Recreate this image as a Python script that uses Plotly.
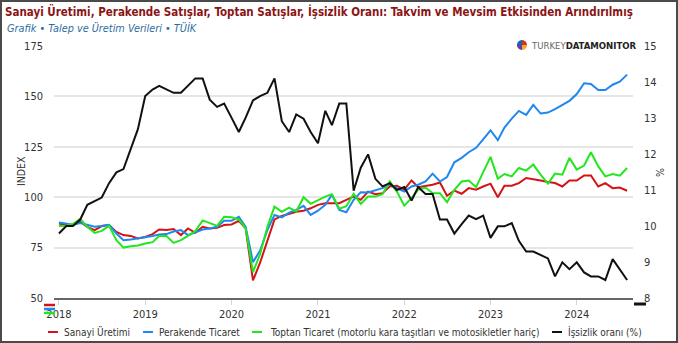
import math
import pandas as pd
import plotly.graph_objects as go

# Monthly data, Jan 2018 - Aug 2024 (seasonally and calendar adjusted)
months = pd.date_range("2018-01-01", periods=80, freq="MS")

sanayi_uretimi = [
    87.0, 86.2, 86.2, 87.8, 85.3, 83.7, 85.7, 86.2, 82.8, 81.2, 80.8, 79.5,
    80.3, 81.7, 84.0, 83.7, 84.2, 81.2, 84.5, 82.3, 85.3, 84.5, 84.8, 86.2,
    86.5, 88.3, 84.5, 58.7, 67.5, 78.7, 89.0, 90.7, 91.7, 92.8, 93.3, 94.5,
    96.2, 97.0, 97.0, 97.0, 98.7, 100.3, 98.7, 102.8, 101.5, 102.0, 105.3, 105.7,
    103.7, 108.3, 105.0, 105.7, 106.2, 107.3, 100.7, 103.3, 101.7, 104.5, 103.7, 105.3,
    106.7, 100.0, 105.7, 105.7, 107.0, 109.5, 109.0, 108.3, 107.5, 107.0, 105.3, 108.3,
    108.3, 110.8, 110.8, 105.3, 107.0, 104.5, 104.8, 103.2,
]

perakende_ticaret = [
    87.5, 87.0, 86.3, 87.2, 86.2, 85.3, 85.7, 86.3, 82.0, 78.7, 79.0, 79.5,
    80.3, 80.8, 81.5, 81.7, 83.0, 83.7, 81.2, 82.8, 84.0, 84.5, 85.3, 88.3,
    88.3, 90.3, 85.3, 67.8, 73.5, 83.7, 91.2, 90.0, 92.3, 93.7, 95.7, 91.2,
    93.3, 96.2, 101.2, 93.7, 92.5, 98.7, 102.5, 102.3, 103.3, 104.5, 106.2, 104.5,
    102.8, 105.3, 106.2, 107.8, 111.7, 107.8, 110.0, 117.3, 119.5, 122.3, 124.5, 128.7,
    133.2, 128.3, 134.5, 139.0, 142.8, 140.8, 145.8, 141.5, 142.0, 143.7, 145.7, 147.8,
    151.2, 156.5, 156.2, 153.2, 153.2, 155.8, 157.3, 160.8,
]

toptan_ticaret = [
    85.7, 85.8, 86.7, 89.3, 85.3, 82.3, 83.3, 85.8, 78.7, 75.0, 75.7, 76.0,
    77.0, 77.7, 80.8, 80.7, 77.3, 78.7, 80.8, 83.2, 88.5, 87.0, 85.8, 90.3,
    90.0, 89.0, 84.5, 62.8, 71.7, 85.3, 95.3, 92.8, 94.8, 92.8, 100.0, 96.7,
    98.7, 100.3, 101.5, 94.3, 95.5, 101.7, 96.7, 100.3, 100.3, 101.5, 107.8, 102.8,
    95.8, 99.5, 103.7, 104.8, 102.0, 102.0, 97.5, 103.7, 107.8, 108.3, 105.0, 112.0,
    120.0, 109.2, 111.5, 110.3, 114.5, 113.2, 116.2, 111.2, 106.7, 111.7, 111.2, 119.5,
    113.7, 115.7, 122.3, 115.3, 110.3, 111.5, 110.7, 114.5,
]

issizlik_orani = [
    9.79, 10.00, 10.00, 10.18, 10.59, 10.69, 10.79, 11.19, 11.49, 11.58, 12.15, 12.69,
    13.61, 13.79, 13.89, 13.79, 13.70, 13.70, 13.89, 14.10, 14.10, 13.51, 13.31, 13.40,
    13.01, 12.61, 13.01, 13.49, 13.61, 13.70, 14.10, 12.91, 12.61, 13.10, 12.98, 12.61,
    12.30, 13.20, 12.80, 13.40, 13.40, 10.98, 11.62, 11.99, 11.31, 11.10, 11.19, 11.00,
    11.08, 10.71, 11.08, 10.89, 10.89, 10.18, 10.18, 9.79, 10.05, 10.29, 10.19, 10.29,
    9.67, 9.99, 9.99, 10.08, 9.59, 9.29, 9.29, 9.20, 9.10, 8.60, 8.99, 8.80,
    8.99, 8.71, 8.60, 8.60, 8.50, 9.08, 8.80, 8.50,
]

series_names = [
    "Sanayi Üretimi",
    "Perakende Ticaret",
    "Toptan Ticaret (motorlu kara taşıtları ve motosikletler hariç)",
    "İşsizlik oranı (%)",
]
series_colors = ["#d41414", "#1e88f0", "#22e61e", "#111111"]

left_ticks = [50, 75, 100, 125, 150, 175]
right_ticks = [8, 9, 10, 11, 12, 13, 14, 15]
year_ticks = ["2018", "2019", "2020", "2021", "2022", "2023", "2024"]

W, H = 678, 343
ML, MR, MT, MB = 54, 45, 46, 45
PW, PH = W - ML - MR, H - MT - MB


def px(x):
    return (x - ML) / PW


def py(y):
    return (H - MB - y) / PH


FONT = "DejaVu Sans Condensed, Liberation Sans Narrow, sans-serif"

fig = go.Figure()
for vals, name, color, axis in zip(
    [sanayi_uretimi, perakende_ticaret, toptan_ticaret, issizlik_orani],
    series_names, series_colors, ["y", "y", "y", "y2"],
):
    fig.add_trace(go.Scatter(
        x=months, y=vals, name=name, mode="lines", yaxis=axis,
        line=dict(color=color, width=2), showlegend=False,
    ))

shapes = []
annotations = []

# legend row
leg_sym_x = [48, 143, 252, 552]
leg_txt_x = [62, 157, 268, 566]
leg_y = 332
for name, color, sx, tx in zip(series_names, series_colors, leg_sym_x, leg_txt_x):
    shapes.append(dict(type="line", xref="paper", yref="paper",
                       x0=px(sx), x1=px(sx + 10), y0=py(leg_y), y1=py(leg_y),
                       line=dict(color=color, width=2)))
    annotations.append(dict(text=name, xref="paper", yref="paper",
                            x=px(tx), y=py(leg_y), xanchor="left", yanchor="middle",
                            showarrow=False, font=dict(family=FONT, size=10, color="#333333")))

# stray legend swatches near the axis corners
for yy, color in zip([305, 309, 313], series_colors[:3]):
    shapes.append(dict(type="line", xref="paper", yref="paper",
                       x0=px(44), x1=px(55), y0=py(yy), y1=py(yy),
                       line=dict(color=color, width=2.5)))
shapes.append(dict(type="line", xref="paper", yref="paper",
                   x0=px(634), x1=px(646), y0=py(304), y1=py(304),
                   line=dict(color="#111111", width=3)))

# logo background + pie icon
shapes.append(dict(type="rect", xref="paper", yref="paper", layer="above",
                   x0=px(508), x1=px(641), y0=py(52), y1=py(39),
                   fillcolor="white", line=dict(width=0)))
cx, cy, r = 522, 45, 5
wedge_cols = ["#d32f2f", "#1565c0", "#6a3d9a", "#f9a825"]
for k, wc in enumerate(wedge_cols):
    a0, a1 = k * math.pi / 2, (k + 1) * math.pi / 2
    pts = [(cx, cy)] + [(cx + r * math.cos(a0 + (a1 - a0) * t / 6),
                         cy - r * math.sin(a0 + (a1 - a0) * t / 6)) for t in range(7)]
    path = "M " + " L ".join(f"{px(x):.5f},{py(y):.5f}" for x, y in pts) + " Z"
    shapes.append(dict(type="path", xref="paper", yref="paper", layer="above",
                       path=path, fillcolor=wc, line=dict(width=0)))
annotations.append(dict(
    text="<span style='color:#666666'>TURKEY</span><b>DATAMONITOR</b>",
    xref="paper", yref="paper", x=px(529), y=py(45), xanchor="left", yanchor="middle",
    showarrow=False, font=dict(family=FONT, size=9.5, color="#222222")))

# axis titles
annotations.append(dict(text="INDEX", xref="paper", yref="paper", x=px(13), y=py(171),
                        textangle=-90, showarrow=False,
                        font=dict(family=FONT, size=10.5, color="#333333")))
annotations.append(dict(text="%", xref="paper", yref="paper", x=px(668), y=py(172),
                        textangle=90, showarrow=False,
                        font=dict(family=FONT, size=10.5, color="#333333")))

# subtitle
annotations.append(dict(text="<i>Grafik • Talep ve Üretim Verileri • TÜİK</i>",
                        xref="paper", yref="paper", x=px(5), y=py(28),
                        xanchor="left", yanchor="middle", showarrow=False,
                        font=dict(family=FONT, size=10.8, color="#2b6c9e")))

# outer frame
shapes.append(dict(type="rect", xref="paper", yref="paper",
                   x0=px(1), x1=px(W - 1), y0=py(H - 1), y1=py(1),
                   line=dict(color="#4a4a4a", width=2)))

fig.update_layout(
    width=W, height=H,
    margin=dict(l=ML, r=MR, t=MT, b=MB),
    paper_bgcolor="white", plot_bgcolor="white",
    title=dict(text="<b>Sanayi Üretimi, Perakende Satışlar, Toptan Satışlar, İşsizlik Oranı: "
                    "Takvim ve Mevsim Etkisinden Arındırılmış</b>",
               xref="container", yref="container", x=5 / W, y=1 - 12 / H,
               xanchor="left", yanchor="middle",
               font=dict(family=FONT, size=11.5, color="#8b1414")),
    xaxis=dict(type="date", range=["2017-12-11", "2024-08-26"],
               tickvals=[f"{y}-01-01" for y in year_ticks], ticktext=year_ticks,
               showgrid=False, showline=True, linecolor="#666666", linewidth=1.5,
               ticks="outside", ticklen=5, tickcolor="#ccd6eb",
               tickfont=dict(family=FONT, size=11, color="#333333")),
    yaxis=dict(range=[50, 175], tickvals=left_ticks, showgrid=True,
               gridcolor="#e6e6e6", gridwidth=1.5, zeroline=False,
               ticklabelstandoff=10,
               tickfont=dict(family=FONT, size=11, color="#333333")),
    yaxis2=dict(range=[8, 15], tickvals=right_ticks, overlaying="y", side="right",
                showgrid=False, zeroline=False, ticklabelstandoff=10,
                tickfont=dict(family=FONT, size=11, color="#333333")),
    shapes=shapes, annotations=annotations,
)

fig.write_html("out.html")
